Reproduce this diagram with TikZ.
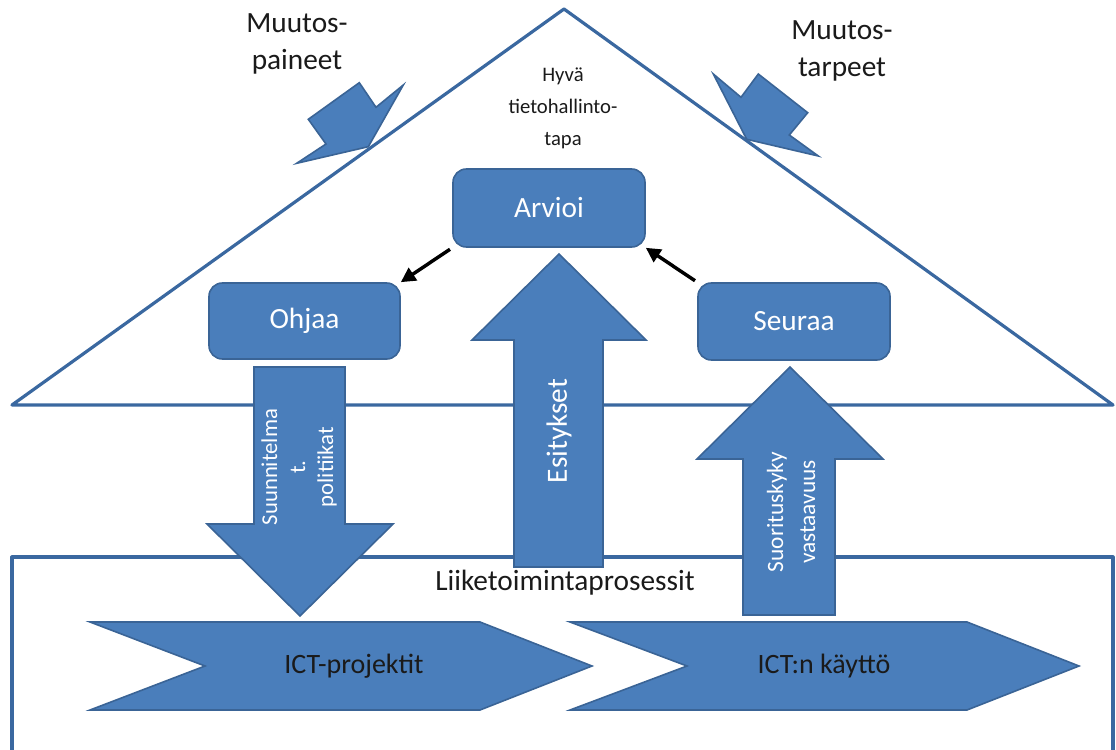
\documentclass[tikz,border=0pt]{standalone}
\usepackage{fontspec}
\setmainfont{Carlito}
\usetikzlibrary{arrows.meta}
\definecolor{shapefill}{HTML}{4A7EBB}
\definecolor{shapeedge}{HTML}{3A6496}
\definecolor{frameline}{HTML}{3A68A0}
\definecolor{darktext}{HTML}{1A1A1A}

\begin{document}
\begin{tikzpicture}[x=0.75pt,y=-0.75pt,
  frame/.style={draw=frameline,line width=2.4pt,line join=round},
  blockshape/.style={fill=shapefill,draw=shapeedge,line width=1.2pt,line join=miter},
  stagebox/.style={blockshape,rounded corners=10pt,inner sep=0pt,text=white,
    font=\fontsize{22}{26}\selectfont},
  label/.style={text=darktext,align=center,inner sep=0pt},
  arrowlabel/.style={text=white,align=center,inner sep=0pt,rotate=90},
  flow/.style={draw=black,line width=2.6pt,-{Triangle[length=11pt,width=11pt]}}
]
\useasboundingbox (0,0) rectangle (1116,749);

% roof and foundation outlines
\draw[frame] (12,405) -- (564,9) -- (1113,405) -- cycle;
\draw[frame] (12,760) -- (12,557) -- (1113,557) -- (1113,760);

% pressure arrows pushing on the roof
\filldraw[blockshape] (296.7,163.3) -- (326,144) -- (308.3,119.3) -- (359.3,82.7)
  -- (376,107.3) -- (403.3,85) -- (368.3,146.7) -- cycle;
\filldraw[blockshape] (713.3,74) -- (741,97.3) -- (758.3,74) -- (807.7,112.7)
  -- (789.3,135) -- (818.3,156) -- (746.7,139.3) -- cycle;

% process chevrons
\filldraw[blockshape] (90,622) -- (480,622) -- (592,666) -- (480,710) -- (90,710) -- (205,666) -- cycle;
\filldraw[blockshape] (570,622) -- (967,622) -- (1079,666) -- (967,710) -- (570,710) -- (687,666) -- cycle;

% vertical block arrows
\filldraw[blockshape] (254,367) -- (345,367) -- (345,524) -- (393,524) -- (300,616)
  -- (207,524) -- (254,524) -- cycle;
\filldraw[blockshape] (514,567) -- (514,340) -- (472,340) -- (559,254) -- (646,340)
  -- (603,340) -- (603,567) -- cycle;
\filldraw[blockshape] (743,615) -- (743,459) -- (697,459) -- (790,367) -- (883,459)
  -- (835,459) -- (835,615) -- cycle;

% governance cycle
\node[stagebox,minimum width=144pt,minimum height=58.5pt] (arvioi) at (549,208) {Arvioi};
\node[stagebox,minimum width=143.25pt,minimum height=57pt] (ohjaa) at (304.5,321) {Ohjaa};
\node[stagebox,minimum width=144pt,minimum height=57.75pt] (seuraa) at (794,321.5) {Seuraa};

\draw[flow,shorten <=2pt] (arvioi.south west) -- (ohjaa.north east);
\draw[flow,shorten <=2pt] (seuraa.north west) -- (arvioi.south east);

% texts
\node[label,font=\fontsize{22}{28}\selectfont] (paineet) at (297,44) {Muutos-\\paineet};
\node[label,font=\fontsize{22}{28}\selectfont] (tarpeet) at (842,51) {Muutos-\\tarpeet};
\node[label,font=\fontsize{15.5}{24}\selectfont] (tapa) at (563,108) {Hyvä\\tietohallinto-\\tapa};
\node[label,font=\fontsize{22}{26}\selectfont] (prosessit) at (565,583) {Liiketoimintaprosessit};
\node[label,font=\fontsize{21}{26}\selectfont] (projektit) at (354,666) {ICT-projektit};
\node[label,font=\fontsize{21}{26}\selectfont] (kaytto) at (824,666) {ICT:n käyttö};

\node[arrowlabel,font=\fontsize{17}{21}\selectfont] (suunnitelmat) at (299,467) {Suunnitelma\\t.\\politiikat};
\node[arrowlabel,font=\fontsize{22}{26}\selectfont] (esitykset) at (559,431) {Esitykset};
\node[arrowlabel,font=\fontsize{17.5}{24}\selectfont] (suorituskyky) at (791,512) {Suorituskyky\\vastaavuus};
\end{tikzpicture}
\end{document}
